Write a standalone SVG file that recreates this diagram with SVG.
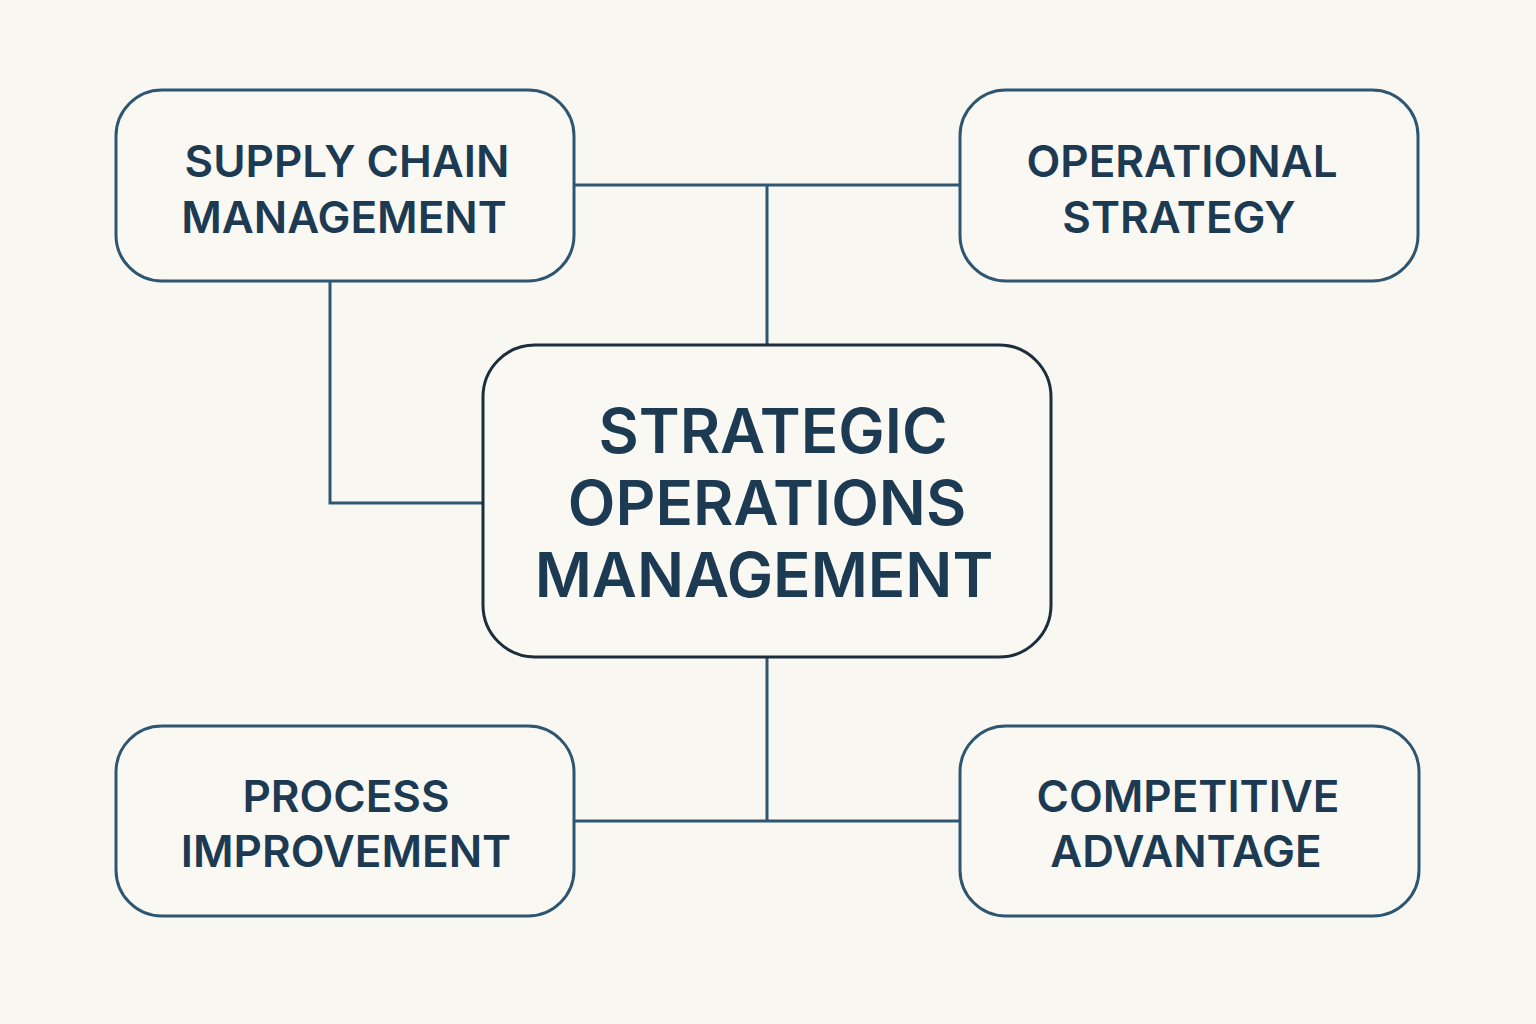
<svg xmlns="http://www.w3.org/2000/svg" width="1536" height="1024" viewBox="0 0 1536 1024">
<style>
.bg{fill:#f9f7f2}
.box{fill:#faf8f3;stroke:#2f5670;stroke-width:3}
.core{fill:#faf8f3;stroke:#1c2d3c;stroke-width:3}
.conn{fill:none;stroke:#2f5670;stroke-width:3}
.lbl{font-family:Inter,"Liberation Sans",sans-serif;font-weight:600;fill:#1d3a53;text-anchor:middle;font-size:44px}
.big{font-size:62px}
</style>
<rect class="bg" x="0" y="0" width="1536" height="1024"/>
<g id="connectors">
<path class="conn" d="M575 185 H959 M767 185 V346"/>
<path class="conn" d="M330 282 V503 H483"/>
<path class="conn" d="M767 657 V821 M575 821 H959"/>
</g>
<g id="supply-chain">
<rect class="box" x="116" y="90" width="458" height="191" rx="46"/>
<text class="lbl" x="347" y="177">SUPPLY CHAIN</text>
<text class="lbl" x="344" y="233">MANAGEMENT</text>
</g>
<g id="operational-strategy">
<rect class="box" x="960" y="90" width="458" height="191" rx="46"/>
<text class="lbl" x="1182" y="177">OPERATIONAL</text>
<text class="lbl" x="1179" y="233">STRATEGY</text>
</g>
<g id="strategic-operations">
<rect class="core" x="483" y="345" width="568" height="312" rx="52"/>
<text class="lbl big" x="773" y="453">STRATEGIC</text>
<text class="lbl big" x="767" y="525">OPERATIONS</text>
<text class="lbl big" x="764" y="597">MANAGEMENT</text>
</g>
<g id="process-improvement">
<rect class="box" x="116" y="726" width="458" height="190" rx="46"/>
<text class="lbl" x="346" y="812">PROCESS</text>
<text class="lbl" x="346" y="867">IMPROVEMENT</text>
</g>
<g id="competitive-advantage">
<rect class="box" x="960" y="726" width="459" height="190" rx="46"/>
<text class="lbl" x="1188" y="812">COMPETITIVE</text>
<text class="lbl" x="1186" y="867">ADVANTAGE</text>
</g>
</svg>
